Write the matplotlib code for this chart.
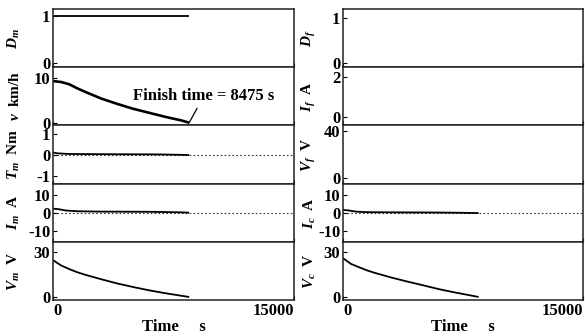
import numpy as np
import matplotlib
matplotlib.use("Agg")
import matplotlib.pyplot as plt

plt.rcParams['font.family'] = ['Liberation Serif', 'DejaVu Serif']
plt.rcParams['font.weight'] = 'bold'
plt.rcParams['mathtext.fontset'] = 'custom'
plt.rcParams['mathtext.it'] = 'Liberation Serif:italic:bold'
plt.rcParams['mathtext.rm'] = 'Liberation Serif:bold'

FINISH = 8475  # s

# motor side (left column)
t_dm = [0, 8475]
d_m = [1, 1]

t_v = [0, 500, 1000, 1500, 2000, 3000, 4000, 5000, 6000, 7000, 8000, 8475]
v = [9.3, 9.1, 8.6, 7.7, 6.9, 5.4, 4.2, 3.1, 2.2, 1.3, 0.5, 0.0]

t_tm = [0, 300, 1000, 3000, 6600, 8475]
t_m = [0.12, 0.08, 0.05, 0.04, 0.03, 0.0]

t_im = [0, 300, 800, 1500, 3000, 6000, 8000, 8475]
i_m = [2.2, 2.0, 1.2, 0.8, 0.6, 0.5, 0.2, 0.0]

t_vm = [0, 500, 1000, 1500, 2000, 3000, 4000, 5000, 6000, 7000, 8000, 8475]
v_m = [24.5, 21.0, 18.6, 16.5, 14.8, 11.8, 9.0, 6.6, 4.4, 2.5, 0.8, 0.0]

# capacitor side (right column); D_f, I_f, V_f show no trace
t_ic = [0, 300, 800, 1500, 3000, 6000, 7000, 8475]
i_c = [1.5, 1.3, 0.6, 0.3, 0.2, 0.1, 0.0, -0.2]

t_vc = [0, 500, 1000, 1500, 2000, 3000, 4000, 5000, 6000, 7000, 8000, 8475]
v_c = [25.8, 22.0, 19.8, 17.7, 16.0, 13.0, 10.3, 7.8, 5.2, 3.0, 1.0, 0.0]

left_panels = [
    ("$D_m$", t_dm, d_m, (-0.08, 1.15), [0, 1], False),
    ("$v$  km/h", t_v, v, (-0.6, 12.4), [0, 10], False),
    ("$T_m$  Nm", t_tm, t_m, (-1.39, 1.44), [-1, 0, 1], True),
    ("$I_m$  A", t_im, i_m, (-16, 16), [-10, 0, 10], True),
    ("$V_m$  V", t_vm, v_m, (-2, 36.7), [0, 30], False),
]
right_panels = [
    ("$D_f$", None, None, (-0.09, 1.2), [0, 1], False),
    ("$I_f$  A", None, None, (-0.45, 2.5), [0, 2], False),
    ("$V_f$  V", None, None, (-5.2, 45.2), [0, 40], False),
    ("$I_c$  A", t_ic, i_c, (-16, 16), [-10, 0, 10], True),
    ("$V_c$  V", t_vc, v_c, (-2, 36.7), [0, 30], False),
]

fig = plt.figure(figsize=(5.85, 3.36), dpi=100)
W, H = 585.0, 336.0
top, bottom = 9, 300
ph = (bottom - top) / 5.0

def column(panels, x0, w, ylab_x):
    axes = []
    for k, (lab, tt, yy, ylim, yt, zero) in enumerate(panels):
        y_top = top + k * ph
        ax = fig.add_axes([x0 / W, 1 - (y_top + ph) / H, w / W, ph / H])
        if tt is not None:
            lw = 1.9 if k == 1 else 1.3
            ax.plot(tt, yy, color='black', lw=lw, solid_capstyle='butt')
        if zero:
            ax.axhline(0, color='#333333', lw=0.8, ls=(0, (1.5, 2)), zorder=0)
        ax.set_xlim(0, 15000)
        ax.set_ylim(*ylim)
        ax.set_yticks(yt)
        ax.set_yticklabels([str(t) for t in yt])
        ax.set_xticks([0, 15000])
        ax.tick_params(direction='in', length=3, width=0.8, labelsize=12, pad=2)
        for s in ax.spines.values():
            s.set_linewidth(1.1)
            s.set_color('#222222')
        ax.set_ylabel(lab, fontsize=11, fontweight='bold')
        ax.yaxis.set_label_coords(ylab_x, 0.5)
        if k < 4:
            ax.set_xticklabels([])
        else:
            ax.set_xticklabels(['0', '15000'])
            lbls = ax.get_xticklabels()
            lbls[0].set_ha('left')
            lbls[1].set_ha('right')
            ax.set_xlabel("Time     s", fontsize=12, fontweight='bold', labelpad=0)
        axes.append(ax)
    return axes

left = column(left_panels, 53, 241, -0.128)
right = column(right_panels, 343, 240, -0.104)

left[1].annotate("Finish time = 8475 s", xy=(FINISH, 0), xytext=(9380, 5.9),
                 fontsize=12, fontweight='bold', ha='center', va='center',
                 arrowprops=dict(arrowstyle='-', color='black', lw=0.9,
                                 shrinkA=1, shrinkB=0))

fig.savefig("out.png", dpi=100)
